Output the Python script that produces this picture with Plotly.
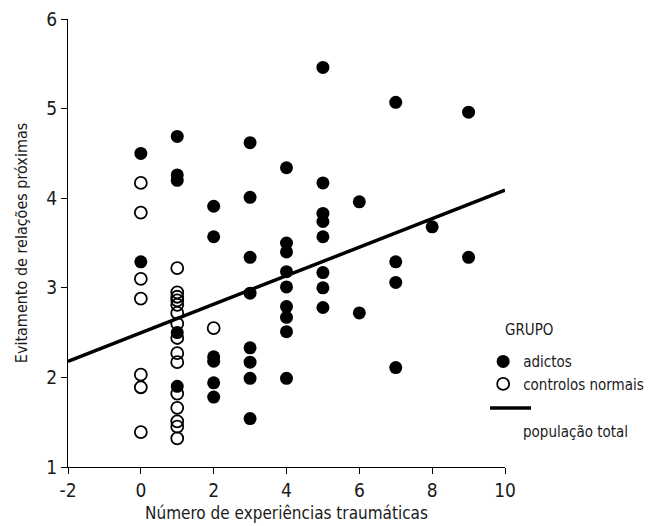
import plotly.graph_objects as go

# ---- data ----
adictos_x = [0, 0,
             1, 1, 1, 1, 1,
             2, 2, 2, 2, 2, 2,
             3, 3, 3, 3, 3, 3, 3, 3,
             4, 4, 4, 4, 4, 4, 4, 4, 4,
             5, 5, 5, 5, 5, 5, 5, 5,
             6, 6,
             7, 7, 7, 7,
             8,
             9, 9]
adictos_y = [4.50, 3.29,
             4.69, 4.26, 4.20, 2.50, 1.90,
             3.91, 3.57, 2.23, 2.18, 1.94, 1.78,
             4.62, 4.01, 3.34, 2.94, 2.33, 2.17, 1.99, 1.54,
             4.34, 3.50, 3.40, 3.18, 3.01, 2.79, 2.67, 2.51, 1.99,
             5.46, 4.17, 3.83, 3.74, 3.57, 3.17, 3.00, 2.78,
             3.96, 2.72,
             5.07, 3.29, 3.06, 2.11,
             3.68,
             4.96, 3.34]

controlos_x = [0, 0, 0, 0, 0, 0, 0,
               1, 1, 1, 1, 1, 1, 1, 1, 1, 1, 1, 1, 1, 1, 1,
               2]
controlos_y = [4.17, 3.84, 3.10, 2.88, 2.03, 1.89, 1.39,
               3.22, 2.95, 2.90, 2.86, 2.81, 2.72, 2.60, 2.44, 2.27, 2.17,
               1.82, 1.66, 1.51, 1.45, 1.32,
               2.55]

linha_x = [-2, 10]
linha_y = [2.18, 4.09]

x_ticks = [-2, 0, 2, 4, 6, 8, 10]
y_ticks = [1, 2, 3, 4, 5, 6]

FONT = "Liberation Sans Narrow, DejaVu Sans Condensed, Arial Narrow, sans-serif"
INK = "#1a1a1a"

fig = go.Figure()
fig.add_trace(go.Scatter(
    x=linha_x, y=linha_y, mode="lines", name="população total",
    line=dict(color="black", width=3.5), showlegend=False, hoverinfo="skip"))
fig.add_trace(go.Scatter(
    x=adictos_x, y=adictos_y, mode="markers", name="adictos",
    marker=dict(symbol="circle", size=13, color="black",
                line=dict(width=0))))
fig.add_trace(go.Scatter(
    x=controlos_x, y=controlos_y, mode="markers", name="controlos normais",
    marker=dict(symbol="circle-open", size=12, color="black",
                line=dict(width=1.8, color="black"))))

fig.update_layout(
    width=655, height=526,
    margin=dict(l=68, r=150, t=19, b=59, autoexpand=False),
    paper_bgcolor="white", plot_bgcolor="white",
    font=dict(family=FONT, size=15, color=INK),
    legend=dict(x=0.950, xanchor="left", y=0.272, yanchor="top",
                bgcolor="rgba(0,0,0,0)", font=dict(size=15, color=INK),
                itemwidth=30, tracegroupgap=0),
    showlegend=True,
)
fig.update_xaxes(
    range=[-2, 10], tickvals=x_ticks, ticktext=[str(v) for v in x_ticks],
    showgrid=False, zeroline=False, showline=True, linecolor="black",
    linewidth=1, ticks="outside", ticklen=6, tickcolor="black",
    automargin=False,
    tickfont=dict(size=19, family=FONT, color=INK),
    title=dict(text="Número de experiências traumáticas",
               font=dict(size=17, family=FONT, color=INK), standoff=7))
fig.update_yaxes(
    range=[1, 6], tickvals=y_ticks, ticktext=[str(v) for v in y_ticks],
    showgrid=False, zeroline=False, showline=True, linecolor="black",
    linewidth=1, ticks="outside", ticklen=6, tickcolor="black",
    automargin=False,
    tickfont=dict(size=19, family=FONT, color=INK),
    title=dict(text="Evitamento de relações próximas",
               font=dict(size=16, family=FONT, color=INK), standoff=14))

# legend header and the line key
fig.add_annotation(text="GRUPO", xref="paper", yref="paper",
                   x=(503 - 68) / 437, y=(467 - 330) / 448,
                   xanchor="left", yanchor="middle", showarrow=False,
                   font=dict(size=15, family=FONT, color=INK))
fig.add_shape(type="line", xref="paper", yref="paper",
              x0=(490 - 68) / 437, x1=(531 - 68) / 437,
              y0=(467 - 408) / 448, y1=(467 - 408) / 448,
              line=dict(color="black", width=3.5))
fig.add_annotation(text="população total", xref="paper", yref="paper",
                   x=(521 - 68) / 437, y=(467 - 432) / 448,
                   xanchor="left", yanchor="middle", showarrow=False,
                   font=dict(size=15, family=FONT, color=INK))

fig.write_html("out.html")
